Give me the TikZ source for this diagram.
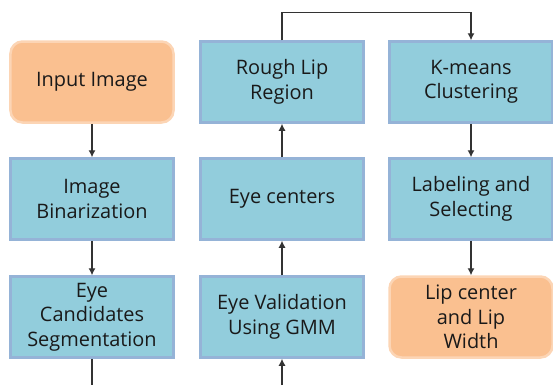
\documentclass[tikz,border=0pt]{standalone}
\usepackage{fontspec}
\setmainfont{Open Sans}
\usetikzlibrary{arrows.meta}
\definecolor{boxblue}{HTML}{92CDDC}
\definecolor{edgeblue}{HTML}{95B3D7}
\definecolor{boxorange}{HTML}{FAC090}
\definecolor{edgeorange}{HTML}{FCD5B5}
\definecolor{wire}{HTML}{333333}
\tikzset{
  stage/.style={draw=edgeblue, fill=boxblue, line width=2.5bp, minimum width=163bp, minimum height=81bp,
    align=center, text=black!90, inner sep=2bp, font=\fontsize{20}{24.5}\selectfont},
  terminal/.style={stage, draw=edgeorange, fill=boxorange, rounded corners=12bp},
  flow/.style={draw=wire, line width=1.1bp, -{Latex[length=7bp,width=7bp]}}
}
\begin{document}
\begin{tikzpicture}[x=1bp,y=-1bp]
	\useasboundingbox (0,0) rectangle (553,385);
	% first column
	\node[terminal] (input) at (92,82) {Input Image};
	\node[stage] (binar) at (92,199) {Image\\Binarization};
	\node[stage] (cand) at (92,317) {Eye\\Candidates\\Segmentation};
	% second column
	\node[stage] (valid) at (282,317) {Eye Validation\\Using GMM};
	\node[stage] (eyec) at (282,199) {Eye centers};
	\node[stage] (rough) at (282,82) {Rough Lip\\Region};
	% third column
	\node[stage] (kmeans) at (471,82) {K-means\\Clustering};
	\node[stage] (label) at (471,199) {Labeling and\\Selecting};
	\node[terminal] (lipc) at (471,317) {Lip center\\and Lip\\Width};
	% loose ends at the bottom
	\coordinate (out) at (92,385);
	\coordinate (in) at (282,385);
	\draw[flow] (input) -- (binar);
	\draw[flow] (binar) -- (cand);
	\draw[flow, -] (cand) -- (out);
	\draw[flow] (in) -- (valid);
	\draw[flow] (valid) -- (eyec);
	\draw[flow] (eyec) -- (rough);
	\draw[flow] (rough.north) -- ++(0,-28) -| (kmeans.north);
	\draw[flow] (kmeans) -- (label);
	\draw[flow] (label) -- (lipc);
\end{tikzpicture}
\end{document}
